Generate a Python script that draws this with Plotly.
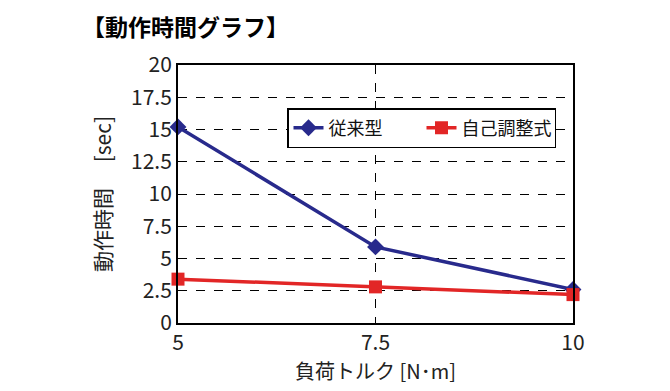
import plotly.graph_objects as go

loads = [5, 7.5, 10]
conventional = [15.2, 5.9, 2.6]
self_adjusting = [3.4, 2.8, 2.2]
series_names = ["従来型", "自己調整式"]
y_ticks = [0, 2.5, 5, 7.5, 10, 12.5, 15, 17.5, 20]
y_tick_labels = ["0", "2.5", "5", "7.5", "10", "12.5", "15", "17.5", "20"]
x_ticks = [5, 7.5, 10]
x_tick_labels = ["5", "7.5", "10"]

FONT = "Noto Sans CJK JP"
BLUE = "rgb(40,42,140)"
RED = "rgb(226,38,38)"

W, H = 670, 391
L, R, T, B = 170, 105, 57, 76
PW, PH = W - L - R, H - T - B

fig = go.Figure()
fig.add_trace(go.Scatter(
    x=loads, y=conventional, name=series_names[0], mode="lines+markers",
    line=dict(color=BLUE, width=3.5),
    marker=dict(symbol="diamond", size=13, color=BLUE),
    cliponaxis=False,
))
fig.add_trace(go.Scatter(
    x=loads, y=self_adjusting, name=series_names[1], mode="lines+markers",
    line=dict(color=RED, width=3.5),
    marker=dict(symbol="square", size=13, color=RED),
    cliponaxis=False,
))

fig.update_layout(
    width=W, height=H,
    margin=dict(l=L, r=R, t=T, b=B),
    paper_bgcolor="white", plot_bgcolor="white",
    font=dict(family=FONT, color="#222", size=18),
    showlegend=True,
    legend=dict(
        orientation="h", x=(287 - 178) / PW, y=(323 - 128) / PH,
        xanchor="left", yanchor="middle",
        bgcolor="white", bordercolor="black", borderwidth=1.5,
        font=dict(size=18, family=FONT, color="#111"),
        tracegroupgap=0, entrywidth=88, entrywidthmode="pixels",
    ),
    annotations=[dict(
        text="<b>【動作時間グラフ】</b>",
        x=(72 - L) / PW, y=(H - B - 18) / PH, xref="paper", yref="paper",
        showarrow=False, font=dict(size=23, family=FONT, color="black"),
        xanchor="left", yanchor="middle",
    )],
)

fig.update_xaxes(
    range=[5, 10], tickvals=x_ticks, ticktext=x_tick_labels,
    showline=True, linecolor="black", linewidth=2, mirror=True,
    showgrid=True, gridcolor="black", griddash="dash", gridwidth=1,
    zeroline=False, ticks="", ticklen=0,
    tickfont=dict(size=21, family=FONT, color="#222"),
    title=dict(text="負荷トルク [N･m]", font=dict(size=20, family=FONT, color="#222"), standoff=0),
)
fig.update_yaxes(
    range=[0, 20], tickvals=y_ticks, ticktext=y_tick_labels,
    showline=True, linecolor="black", linewidth=2, mirror=True,
    showgrid=True, gridcolor="black", griddash="dash", gridwidth=1,
    zeroline=False, ticks="", ticklen=0,
    tickfont=dict(size=21, family=FONT, color="#222"),
    title=dict(text="動作時間　 [sec]", font=dict(size=21, family=FONT, color="#222"), standoff=14),
)

fig.write_html("out.html")
